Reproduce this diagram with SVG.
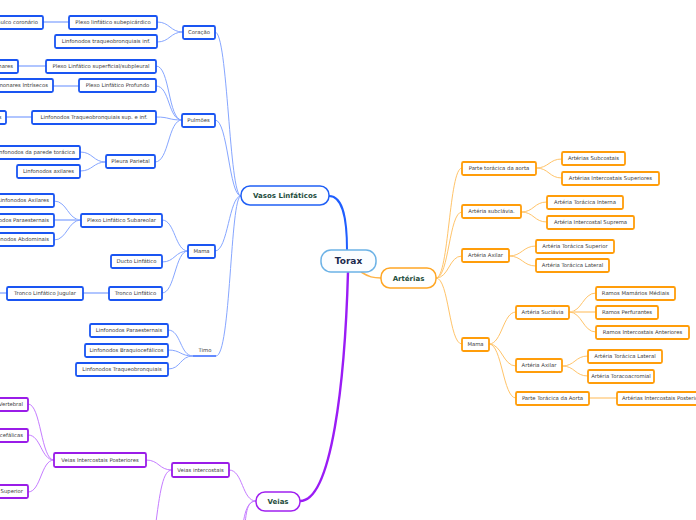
<svg xmlns="http://www.w3.org/2000/svg" width="696" height="520" viewBox="0 0 696 520">
<style>
.t{font-family:"DejaVu Sans",Verdana,sans-serif;font-size:5.3px;fill:#3a3a3a;text-anchor:middle}
.te{text-anchor:end}
.ts{text-anchor:start}
.h{font-family:"DejaVu Sans",Verdana,sans-serif;font-weight:bold;font-size:7px;fill:#1e4d3c;text-anchor:middle}
.lb{fill:#fff;stroke:#1a55f2;stroke-width:1.8}
.ab{fill:#fff;stroke:#ff9d0a;stroke-width:1.8}
.vb{fill:#fff;stroke:#9a1ce8;stroke-width:1.8}
.cl{fill:none;stroke:#86a6ff;stroke-width:1}
.cls{fill:none;stroke:#a8bfff;stroke-width:1.8}
.ca{fill:none;stroke:#ffc46a;stroke-width:1}
.cas{fill:none;stroke:#ffd9a0;stroke-width:1.8}
.cv{fill:none;stroke:#c57cff;stroke-width:1}
</style>
<g id="connectors">
<path d="M347,250 C347,222 344,196 329,196" fill="none" stroke="#1f5eff" stroke-width="2"/>
<path d="M348,272 C345,380 332,501 300,501" fill="none" stroke="#9a1cf5" stroke-width="2.4"/>
<path d="M361,272 C369,277 373,278 381,278" fill="none" stroke="#ffb347" stroke-width="1.5"/>
<path class="cl" d="M241,196 C229,196 228,32 215,32"/>
<path class="cl" d="M241,196 C229,196 228,120 215,120"/>
<path class="cl" d="M241,196 C229,196 228,251 215,251"/>
<path class="cl" d="M241,196 C230,196 231,356 216,356"/>
<path class="cl" d="M183,32 C170,32 170,22 157,22"/>
<path class="cl" d="M183,32 C170,32 170,42 157,42"/>
<path class="cls" d="M69,22 L43,22"/>
<path class="cl" d="M182,120 C168,120 170,66 156,66"/>
<path class="cl" d="M182,120 C168,120 170,86 156,86"/>
<path class="cl" d="M182,120 C168,120 170,117 156,117"/>
<path class="cl" d="M182,120 C168,120 169,162 155,162"/>
<path class="cls" d="M46,66 L18,66"/>
<path class="cls" d="M79,86 L53,86"/>
<path class="cls" d="M32,117 L6,117"/>
<path class="cl" d="M106,162 C93,162 93,152 80,152"/>
<path class="cl" d="M106,162 C93,162 93,171 80,171"/>
<path class="cl" d="M188,251 C175,251 175,220 162,220"/>
<path class="cl" d="M188,251 C175,251 175,262 162,262"/>
<path class="cl" d="M188,251 C175,251 175,293 162,293"/>
<path class="cl" d="M81,220 C68,220 67,201 54,201"/>
<path class="cls" d="M81,220 L54,220"/>
<path class="cl" d="M81,220 C68,220 67,240 54,240"/>
<path class="cls" d="M109,293 L83,293"/>
<path class="cls" d="M7,293 L-5,293"/>
<path class="cl" d="M193,356 C180,356 181,330 168,330"/>
<path class="cl" d="M193,356 C180,356 181,350 168,350"/>
<path class="cl" d="M193,356 C180,356 181,369 168,369"/>
<path class="ca" d="M436,278 C449,278 449,168 462,168"/>
<path class="ca" d="M436,278 C449,278 449,212 462,212"/>
<path class="ca" d="M436,278 C449,278 449,256 462,256"/>
<path class="ca" d="M436,278 C449,278 449,344 462,344"/>
<path class="ca" d="M536,168 C549,168 549,159 562,159"/>
<path class="ca" d="M536,168 C549,168 549,178 562,178"/>
<path class="ca" d="M521,212 C534,212 534,202 547,202"/>
<path class="ca" d="M521,212 C534,212 534,222 547,222"/>
<path class="ca" d="M509,256 C522,256 523,246 536,246"/>
<path class="ca" d="M509,256 C522,256 523,266 536,266"/>
<path class="ca" d="M489,344 C502,344 503,312 516,312"/>
<path class="ca" d="M489,344 C502,344 503,366 516,366"/>
<path class="ca" d="M489,344 C502,344 503,398 516,398"/>
<path class="ca" d="M569,312 C582,312 583,293 596,293"/>
<path class="cas" d="M569,312 L596,312"/>
<path class="ca" d="M569,312 C582,312 583,332 596,332"/>
<path class="ca" d="M562,366 C575,366 575,356 588,356"/>
<path class="ca" d="M562,366 C575,366 575,376 588,376"/>
<path class="cas" d="M589,398 L617,398"/>
<path class="cv" d="M256,501 C242,501 243,470 229,470"/>
<path class="cv" d="M256,501 C246,501 246,515 244,535"/>
<path class="cv" d="M256,501 C245,501 243,520 241,545"/>
<path class="cv" d="M172,470 C163,470 160,490 155,530"/>
<path class="cv" d="M172,470 C159,470 159,460 146,460"/>
<path class="cv" d="M54,460 C41,460 41,404 28,404"/>
<path class="cv" d="M54,460 C41,460 41,435 28,435"/>
<path class="cv" d="M54,460 C41,460 41,492 28,492"/>
</g>
<g id="torax"><rect x="321" y="250" width="55" height="22" rx="10" fill="#fbfdff" stroke="#6cb2e6" stroke-width="1.5"/><text x="348.5" y="264.3" font-family="DejaVu Sans,Verdana,sans-serif" font-weight="bold" font-size="9px" fill="#1b2a4e" text-anchor="middle">Torax</text></g>
<g id="vasos"><rect x="241" y="186" width="88" height="19" rx="9" fill="#fff" stroke="#2160f5" stroke-width="1.5"/><text class="h" x="285" y="198">Vasos Linfáticos</text></g>
<g id="arterias"><rect x="381" y="268" width="55" height="20" rx="9" fill="#fff" stroke="#ffa726" stroke-width="1.5"/><text class="h" x="408.5" y="280.5">Artérias</text></g>
<g id="veias"><rect x="256" y="492" width="44" height="19" rx="9" fill="#fff" stroke="#a020f0" stroke-width="1.5"/><text class="h" x="278" y="504">Veias</text></g>
<g id="coracao"><rect class="lb" x="183" y="26" width="32" height="13" rx="1.5"/><text class="t" x="199" y="34.4">Coração</text></g>
<g id="pulmoes"><rect class="lb" x="182" y="114" width="33" height="13" rx="1.5"/><text class="t" x="198.5" y="122.4">Pulmões</text></g>
<g id="mama-l"><rect class="lb" x="188" y="245" width="27" height="13" rx="1.5"/><text class="t" x="201.5" y="253.4">Mama</text></g>
<g id="timo"><text class="t" x="205" y="351.5">Timo</text><line x1="193" y1="356" x2="216" y2="356" stroke="#3b6cff" stroke-width="1.6"/></g>
<g id="subepicardico"><rect class="lb" x="69" y="16" width="88" height="13" rx="1.5"/><text class="t" x="113" y="24.4">Plexo linfático subepicárdico</text></g>
<g id="traqinf"><rect class="lb" x="55" y="35" width="102" height="13" rx="1.5"/><text class="t" x="106" y="43.4">Linfonodos traqueobronquiais inf.</text></g>
<g id="sulco"><rect class="lb" x="-30" y="16" width="73" height="13" rx="1.5"/><text class="t te" x="38" y="24.4">Sulco coronário</text></g>
<g id="superficial"><rect class="lb" x="46" y="60" width="110" height="13" rx="1.5"/><text class="t" x="101" y="68.4">Plexo Linfático superficial/subpleural</text></g>
<g id="profundo"><rect class="lb" x="79" y="79" width="77" height="13" rx="1.5"/><text class="t" x="117.5" y="87.4">Plexo Linfático Profundo</text></g>
<g id="traqsup"><rect class="lb" x="32" y="111" width="124" height="13" rx="1.5"/><text class="t" x="94" y="119.4">Linfonodos Traqueobronquiais sup.  e inf.</text></g>
<g id="pleura"><rect class="lb" x="106" y="155" width="49" height="13" rx="1.5"/><text class="t" x="130.5" y="163.4">Pleura Parietal</text></g>
<g id="broncopulm"><rect class="lb" x="-80" y="60" width="98" height="13" rx="1.5"/><text class="t te" x="13" y="68.4">Linfonodos Broncopulmonares</text></g>
<g id="intrisecos"><rect class="lb" x="-60" y="79" width="113" height="13" rx="1.5"/><text class="t te" x="48" y="87.4">Linfonodos Pulmonares Intrísecos</text></g>
<g id="mediast"><rect class="lb" x="-80" y="111" width="86" height="13" rx="1.5"/><text class="t te" x="1.5" y="119.4">Linfonodos Mediastinais</text></g>
<g id="parede"><rect class="lb" x="-10" y="146" width="90" height="13" rx="1.5"/><text class="t te" x="75" y="154.4">Linfonodos da parede torácica</text></g>
<g id="axilares-p"><rect class="lb" x="17" y="165" width="63" height="13" rx="1.5"/><text class="t" x="48.5" y="173.4">Linfonodos axilares</text></g>
<g id="subareolar"><rect class="lb" x="81" y="214" width="81" height="13" rx="1.5"/><text class="t" x="121.5" y="222.4">Plexo Linfático Subareolar</text></g>
<g id="ducto"><rect class="lb" x="111" y="255" width="51" height="13" rx="1.5"/><text class="t" x="136.5" y="263.4">Ducto Linfático</text></g>
<g id="tronco"><rect class="lb" x="109" y="287" width="53" height="13" rx="1.5"/><text class="t" x="135.5" y="295.4">Tronco Linfático</text></g>
<g id="axilares-m"><rect class="lb" x="-20" y="194" width="74" height="13" rx="1.5"/><text class="t te" x="49" y="202.4">Linfonodos Axilares</text></g>
<g id="paraest-m"><rect class="lb" x="-30" y="214" width="84" height="13" rx="1.5"/><text class="t te" x="49" y="222.4">Linfonodos Paraesternais</text></g>
<g id="abdominais"><rect class="lb" x="-30" y="233" width="84" height="13" rx="1.5"/><text class="t te" x="49" y="241.4">Linfonodos Abdominais</text></g>
<g id="jugular"><rect class="lb" x="7" y="287" width="76" height="13" rx="1.5"/><text class="t" x="45" y="295.4">Tronco Linfático Jugular</text></g>
<g id="paraest-t"><rect class="lb" x="90" y="324" width="78" height="13" rx="1.5"/><text class="t" x="129" y="332.4">Linfonodos Paraesternais</text></g>
<g id="braquio-t"><rect class="lb" x="85" y="344" width="83" height="13" rx="1.5"/><text class="t" x="126.5" y="352.4">Linfonodos Braquiocefálicos</text></g>
<g id="traq-t"><rect class="lb" x="76" y="363" width="92" height="13" rx="1.5"/><text class="t" x="122" y="371.4">Linfonodos Traqueobronquiais</text></g>
<g id="parte-aorta"><rect class="ab" x="462" y="162" width="74" height="13" rx="1.5"/><text class="t" x="499" y="170.4">Parte torácica da aorta</text></g>
<g id="subclavia"><rect class="ab" x="462" y="205" width="59" height="13" rx="1.5"/><text class="t" x="491.5" y="213.4">Artéria subclávia.</text></g>
<g id="axilar-a"><rect class="ab" x="462" y="249" width="47" height="13" rx="1.5"/><text class="t" x="485.5" y="257.4">Artéria Axilar</text></g>
<g id="mama-a"><rect class="ab" x="462" y="338" width="27" height="13" rx="1.5"/><text class="t" x="475.5" y="346.4">Mama</text></g>
<g id="subcostais"><rect class="ab" x="562" y="152" width="63" height="13" rx="1.5"/><text class="t" x="593.5" y="160.4">Artérias Subcostais</text></g>
<g id="intsup"><rect class="ab" x="562" y="172" width="97" height="13" rx="1.5"/><text class="t" x="610.5" y="180.4">Artérias Intercostais Superiores</text></g>
<g id="torint"><rect class="ab" x="547" y="196" width="76" height="13" rx="1.5"/><text class="t" x="585" y="204.4">Artéria Torácica Interna</text></g>
<g id="suprema"><rect class="ab" x="547" y="216" width="87" height="13" rx="1.5"/><text class="t" x="590.5" y="224.4">Artéria Intercostal Suprema</text></g>
<g id="torsup"><rect class="ab" x="536" y="240" width="78" height="13" rx="1.5"/><text class="t" x="575" y="248.4">Artéria Torácica Superior</text></g>
<g id="torlat1"><rect class="ab" x="536" y="259" width="73" height="13" rx="1.5"/><text class="t" x="572.5" y="267.4">Artéria Torácica Lateral</text></g>
<g id="suclavia"><rect class="ab" x="516" y="306" width="53" height="13" rx="1.5"/><text class="t" x="542.5" y="314.4">Artéria Suclávia</text></g>
<g id="axilar-m"><rect class="ab" x="516" y="359" width="46" height="13" rx="1.5"/><text class="t" x="539" y="367.4">Artéria Axilar</text></g>
<g id="parte-aorta-m"><rect class="ab" x="516" y="392" width="73" height="13" rx="1.5"/><text class="t" x="552.5" y="400.4">Parte Torácica da Aorta</text></g>
<g id="mamarios"><rect class="ab" x="596" y="287" width="79" height="13" rx="1.5"/><text class="t" x="635.5" y="295.4">Ramos Mamários Médiais</text></g>
<g id="perfurantes"><rect class="ab" x="596" y="306" width="62" height="13" rx="1.5"/><text class="t" x="627" y="314.4">Ramos Perfurantes</text></g>
<g id="intant"><rect class="ab" x="596" y="326" width="93" height="13" rx="1.5"/><text class="t" x="642.5" y="334.4">Ramos Intercostais Anteriores</text></g>
<g id="torlat2"><rect class="ab" x="588" y="350" width="74" height="13" rx="1.5"/><text class="t" x="625" y="358.4">Artéria Torácica Lateral</text></g>
<g id="toracoacromial"><rect class="ab" x="588" y="370" width="66" height="13" rx="1.5"/><text class="t" x="621" y="378.4">Artéria Toracoacromial</text></g>
<g id="intpost-a"><rect class="ab" x="617" y="392" width="104" height="13" rx="1.5"/><text class="t ts" x="622" y="400.4">Artérias Intercostais Posteriores</text></g>
<g id="veias-ic"><rect class="vb" x="172" y="463" width="57" height="14" rx="1.5"/><text class="t" x="200.5" y="471.9">Veias intercostais</text></g>
<g id="veias-icp"><rect class="vb" x="54" y="453" width="92" height="14" rx="1.5"/><text class="t" x="100" y="461.9">Veias Intercostais Posteriores</text></g>
<g id="vertebral"><rect class="vb" x="-40" y="398" width="68" height="13" rx="1.5"/><text class="t te" x="23" y="406.4">Plexo Venoso Vertebral</text></g>
<g id="braquio-v"><rect class="vb" x="-40" y="429" width="68" height="13" rx="1.5"/><text class="t te" x="23" y="437.4">Veias Braquiocefálicas</text></g>
<g id="superior-v"><rect class="vb" x="-40" y="485" width="68" height="13" rx="1.5"/><text class="t te" x="23" y="493.4">Veia Intercostal Superior</text></g>
</svg>
